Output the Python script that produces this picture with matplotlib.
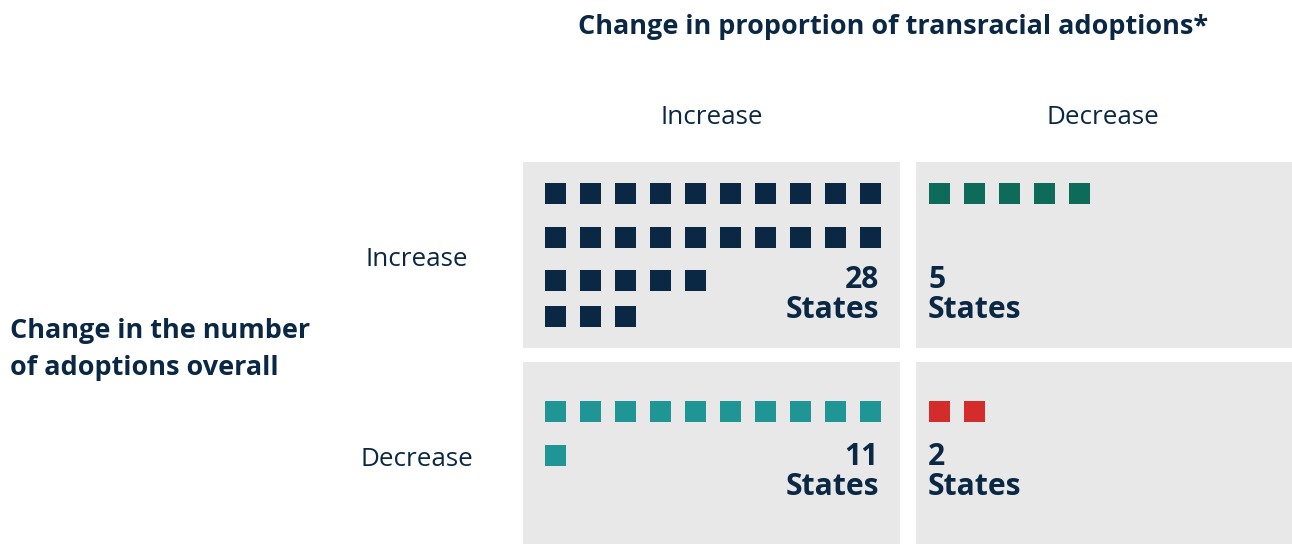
import matplotlib.pyplot as plt
from matplotlib.patches import Rectangle

plt.rcParams['font.family'] = ['Open Sans', 'DejaVu Sans']

# data
col_labels = ['Increase', 'Decrease']
row_labels = ['Increase', 'Decrease']
counts = [[28, 5], [11, 2]]
# how the squares are split into rows in each cell
row_splits = [[[10, 10, 5, 3], [5]], [[10, 1], [2]]]
colors = [['#0a2744', '#0e6b5a'], ['#1f9595', '#d42b2b']]

navy = '#0a2744'
W, H = 1292, 544
fig = plt.figure(figsize=(W / 100, H / 100), dpi=100)
ax = fig.add_axes([0, 0, 1, 1])
ax.set_xlim(0, W)
ax.set_ylim(H, 0)
ax.axis('off')

def pt(px):
    return px * 0.72

panel_x = [523, 916]
panel_w = [377, 380]
panel_y = [162, 362]
panel_h = [186, 182]
row_gap = [[0, 44, 87, 123], [0, 44]]
sq, step = 21, 35

for r in range(2):
    for c in range(2):
        x0, y0 = panel_x[c], panel_y[r]
        ax.add_patch(Rectangle((x0, y0), panel_w[c], panel_h[r], color='#e8e8e8', lw=0))
        sx = x0 + 22 if c == 0 else x0 + 13
        sy = y0 + 21 if r == 0 else y0 + 39
        for ri, n in enumerate(row_splits[r][c]):
            for k in range(n):
                ax.add_patch(Rectangle((sx + k * step, sy + row_gap[r][ri]), sq, sq,
                                       color=colors[r][c], lw=0))
        # count label
        base = 288 if r == 0 else 465
        if c == 0:
            tx, ha = x0 + 356, 'right'
        else:
            tx, ha = sx - 1, 'left'
        ax.text(tx, base, str(counts[r][c]), ha=ha, va='baseline', fontsize=pt(30),
                fontweight='bold', color=navy)
        ax.text(tx, base + 30, 'States', ha=ha, va='baseline', fontsize=pt(30),
                fontweight='bold', color=navy)

ax.text(893, 27, 'Change in proportion of transracial adoptions*', ha='center', va='center',
        fontsize=pt(27), fontweight='bold', color=navy)
for c, lab in enumerate(col_labels):
    ax.text([712, 1103][c], 117, lab, ha='center', va='center',
            fontsize=pt(26), color=navy)
for r, lab in enumerate(row_labels):
    ax.text(417, [260, 460][r], lab, ha='center', va='center', fontsize=pt(26), color=navy)
ax.text(10, 331, 'Change in the number', ha='left', va='center', fontsize=pt(27),
        fontweight='bold', color=navy)
ax.text(10, 368, 'of adoptions overall', ha='left', va='center', fontsize=pt(27),
        fontweight='bold', color=navy)

fig.savefig('out.png', dpi=100, facecolor='white')
